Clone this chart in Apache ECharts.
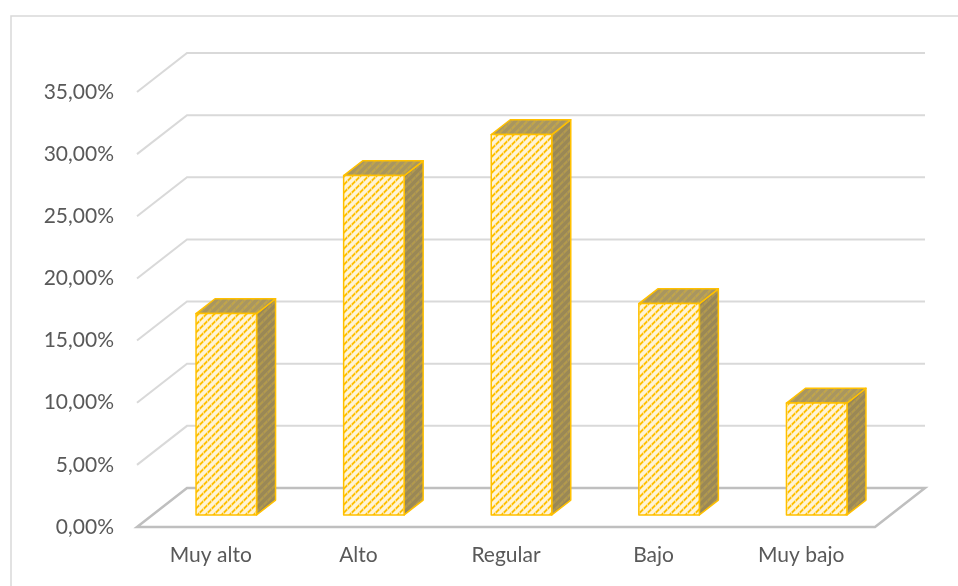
<!DOCTYPE html>
<html>
<head>
<meta charset="utf-8">
<script src="https://cdn.jsdelivr.net/npm/echarts@6/dist/echarts.min.js"></script>
<style>
  html, body { margin: 0; padding: 0; background: #ffffff; }
  #chart { width: 958px; height: 586px; }
</style>
</head>
<body>
<div id="chart"></div>
<script>
// Category labels and percentage values for each bar
const categories = ['Muy alto', 'Alto', 'Regular', 'Bajo', 'Muy bajo'];
const values = [16.2, 27.3, 30.6, 17.0, 9.0];
// Value-axis ticks (percent)
const yTicks = [0, 5, 10, 15, 20, 25, 30, 35];

// Oblique depth of the floor / back wall
const DX = 50, DY = -39;
// Bars occupy this slice of the depth and this share of each band
const DEPTH_FRONT = 0.31, DEPTH_BACK = 0.69, BAR_SHARE = 0.41;

// Small tiled hatch patterns for the bar faces
function makeHatch(bg, main, soft) {
  const c = document.createElement('canvas');
  c.width = 8; c.height = 8;
  const g = c.getContext('2d');
  g.fillStyle = bg; g.fillRect(0, 0, 8, 8);
  for (let x = 0; x < 8; x++) {
    for (let y = 0; y < 8; y++) {
      const d = (x + y) % 8;
      if ((d === 7 || d === 0) && x % 4 !== 3) { g.fillStyle = main; g.fillRect(x, y, 1, 1); }
      else if (d === 1 || d === 6 || ((d === 7 || d === 0) && x % 4 === 3)) { g.fillStyle = soft; g.fillRect(x, y, 1, 1); }
    }
  }
  return { type: 'pattern', image: c, repeat: 'repeat' };
}
const frontFill = makeHatch('#fff4d6', '#ffc000', '#ffe08a');
const sideFill = makeHatch('#9a8855', '#b39b4a', '#a69057');
const topFill = makeHatch('#a9965f', '#c2a647', '#b39d5c');

const chart = echarts.init(document.getElementById('chart'), null, { renderer: 'canvas' });

// gridlines above the floor, as [x, value] pairs
const gridData = yTicks.filter(v => v > 0).map(v => [0, v]);

const option = {
  animation: false,
  backgroundColor: '#ffffff',
  textStyle: { fontFamily: 'Lato' },
  graphic: [{
    type: 'rect',
    shape: { x: 11, y: 16, width: 1000, height: 1000 },
    style: { fill: 'none', stroke: '#d9d9d9', lineWidth: 1.5 },
    silent: true, z: 0
  }],
  grid: { left: 137, right: 83, top: 92, bottom: 59, containLabel: false },
  xAxis: {
    type: 'category',
    data: categories,
    axisLine: { show: false },
    axisTick: { show: false },
    splitLine: { show: false },
    axisLabel: { color: '#595959', fontSize: 21, fontFamily: 'Lato', margin: 18 }
  },
  yAxis: {
    type: 'value',
    min: 0, max: 35, interval: 5,
    axisLine: { show: false },
    axisTick: { show: false },
    splitLine: { show: false },
    axisLabel: {
      color: '#595959', fontSize: 21, fontFamily: 'Lato', margin: 23,
      formatter: v => v.toFixed(2).replace('.', ',') + '%'
    }
  },
  series: [
    {
      // back-wall gridlines with their diagonal lead-in on the left
      type: 'custom',
      z: 1,
      silent: true,
      data: gridData,
      renderItem: function (params, api) {
        const cs = params.coordSys;
        const y = api.coord([0, api.value(1)])[1];
        const left = cs.x, right = cs.x + cs.width;
        return {
          type: 'polyline',
          shape: { points: [[left, y], [left + DX, y + DY], [right + DX, y + DY]] },
          style: { stroke: '#d9d9d9', lineWidth: 2, fill: null }
        };
      }
    },
    {
      // floor outline at zero
      type: 'custom',
      z: 2,
      silent: true,
      data: [[0, yTicks[0]]],
      renderItem: function (params, api) {
        const cs = params.coordSys;
        const y = api.coord([0, api.value(1)])[1];
        const left = cs.x, right = cs.x + cs.width;
        return {
          type: 'polygon',
          shape: { points: [[left, y], [right, y], [right + DX, y + DY], [left + DX, y + DY]] },
          style: { stroke: '#bfbfbf', lineWidth: 2.5, fill: null }
        };
      }
    },
    {
      // 3D bars: side, top and front faces
      type: 'custom',
      z: 5,
      data: values.map((v, i) => [i, v]),
      renderItem: function (params, api) {
        const idx = api.value(0);
        const val = api.value(1);
        const base = api.coord([idx, 0]);
        const top = api.coord([idx, val]);
        const w = api.size([1, 0])[0] * BAR_SHARE;
        const fx = DEPTH_FRONT * DX, fy = DEPTH_FRONT * DY;
        const ddx = (DEPTH_BACK - DEPTH_FRONT) * DX, ddy = (DEPTH_BACK - DEPTH_FRONT) * DY;
        const xl = base[0] + fx - w / 2, xr = base[0] + fx + w / 2;
        const yt = top[1] + fy, yb = base[1] + fy;
        const edge = { stroke: '#ffc000', lineWidth: 1.5, lineJoin: 'round' };
        return {
          type: 'group',
          children: [
            {
              type: 'polygon',
              shape: { points: [[xr, yt], [xr + ddx, yt + ddy], [xr + ddx, yb + ddy], [xr, yb]] },
              style: Object.assign({ fill: sideFill }, edge)
            },
            {
              type: 'polygon',
              shape: { points: [[xl, yt], [xr, yt], [xr + ddx, yt + ddy], [xl + ddx, yt + ddy]] },
              style: Object.assign({ fill: topFill }, edge)
            },
            {
              type: 'rect',
              shape: { x: xl, y: yt, width: xr - xl, height: yb - yt },
              style: Object.assign({ fill: frontFill }, edge)
            }
          ]
        };
      }
    }
  ]
};

chart.setOption(option);
</script>
</body>
</html>
